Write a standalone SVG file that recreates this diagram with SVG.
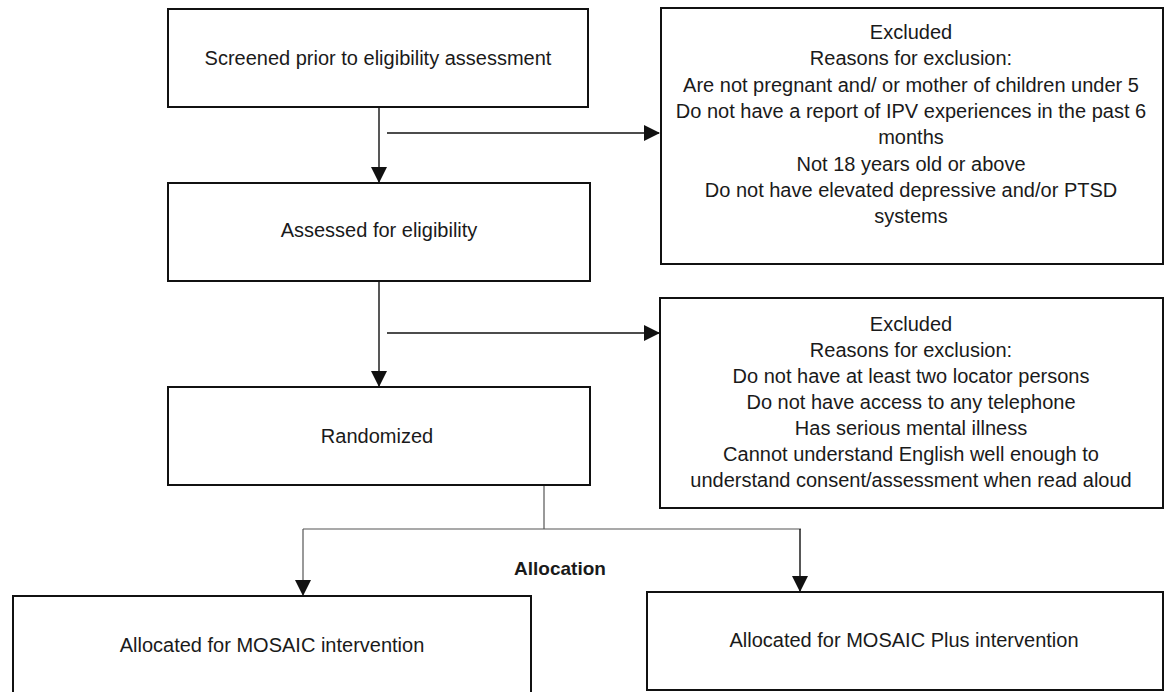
<svg xmlns="http://www.w3.org/2000/svg" width="1166" height="692" viewBox="0 0 1166 692">
<style>
.box{fill:#fff;stroke:#111;stroke-width:2}
.t{font-family:"Liberation Sans",Arial,sans-serif;font-size:20px;fill:#1a1a1a;text-anchor:middle}
.b{font-weight:bold;font-size:19px}
.c{fill:none;stroke:#111;stroke-width:1.4}
.g{fill:none;stroke:#555;stroke-width:1.2}
</style>
<defs>
<marker id="ah" markerUnits="userSpaceOnUse" markerWidth="16" markerHeight="16" viewBox="0 0 16 16" refX="15" refY="8" orient="auto">
<path d="M0,0 L16,8 L0,16 Z" fill="#111"/>
</marker>
</defs>
<rect width="1166" height="692" fill="#fff"/>
<g id="connectors">
<path class="c" d="M379,107 V182" marker-end="url(#ah)"/>
<path class="c" d="M387,133 H659" marker-end="url(#ah)"/>
<path class="c" d="M379,281 V386" marker-end="url(#ah)"/>
<path class="c" d="M387,333 H659" marker-end="url(#ah)"/>
<path class="g" d="M544,486 V529"/>
<path class="g" d="M303,529 H801"/>
<path class="g" d="M303,529 V595" marker-end="url(#ah)"/>
<path class="c" d="M800,529 V591" marker-end="url(#ah)"/>
</g>
<g id="screened">
<rect class="box" x="168" y="9" width="420" height="98"/>
<text class="t" x="378" y="65">Screened prior to eligibility assessment</text>
</g>
<g id="excluded1">
<rect class="box" x="661" y="8" width="502" height="256"/>
<text class="t" x="911" y="39">Excluded</text>
<text class="t" x="911" y="65">Reasons for exclusion:</text>
<text class="t" x="911" y="92">Are not pregnant and/ or mother of children under 5</text>
<text class="t" x="911" y="118">Do not have a report of IPV experiences in the past 6</text>
<text class="t" x="911" y="144">months</text>
<text class="t" x="911" y="171">Not 18 years old or above</text>
<text class="t" x="911" y="197">Do not have elevated depressive and/or PTSD</text>
<text class="t" x="911" y="223">systems</text>
</g>
<g id="assessed">
<rect class="box" x="168" y="183" width="422" height="98"/>
<text class="t" x="379" y="237">Assessed for eligibility</text>
</g>
<g id="excluded2">
<rect class="box" x="660" y="298" width="503" height="210"/>
<text class="t" x="911" y="331">Excluded</text>
<text class="t" x="911" y="357">Reasons for exclusion:</text>
<text class="t" x="911" y="383">Do not have at least two locator persons</text>
<text class="t" x="911" y="409">Do not have access to any telephone</text>
<text class="t" x="911" y="435">Has serious mental illness</text>
<text class="t" x="911" y="461">Cannot understand English well enough to</text>
<text class="t" x="911" y="487">understand consent/assessment when read aloud</text>
</g>
<g id="randomized">
<rect class="box" x="168" y="387" width="422" height="98"/>
<text class="t" x="377" y="443">Randomized</text>
</g>
<g id="allocation">
<text class="t b" x="560" y="575">Allocation</text>
</g>
<g id="mosaic">
<rect class="box" x="13" y="596" width="518" height="110"/>
<text class="t" x="272" y="652">Allocated for MOSAIC intervention</text>
</g>
<g id="mosaicplus">
<rect class="box" x="647" y="592" width="516" height="98"/>
<text class="t" x="904" y="647">Allocated for MOSAIC Plus intervention</text>
</g>
</svg>
